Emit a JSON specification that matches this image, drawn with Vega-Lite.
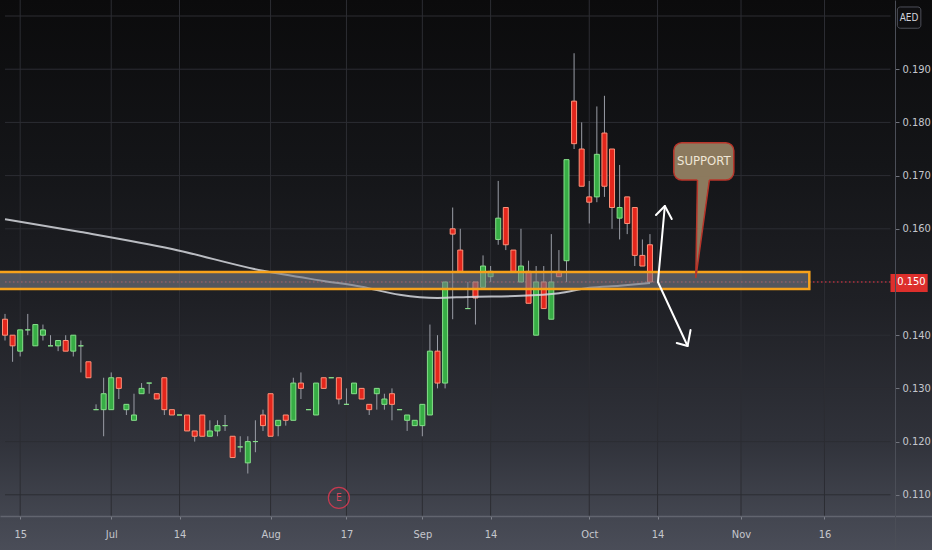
{
  "$schema": "https://vega.github.io/schema/vega-lite/v6.json",
  "width": 932,
  "height": 550,
  "autosize": {"type": "none"},
  "padding": 0,
  "background": "#0b0b0c",
  "config": {
    "view": {"stroke": null},
    "font": "'Liberation Sans Narrow', 'DejaVu Sans Condensed', 'Roboto Condensed', sans-serif"
  },
  "datasets": {
    "candles": [
      {"n": 0, "o": 0.143, "h": 0.144, "l": 0.139, "c": 0.140},
      {"n": 1, "o": 0.140, "h": 0.140, "l": 0.135, "c": 0.138},
      {"n": 2, "o": 0.137, "h": 0.141, "l": 0.136, "c": 0.141},
      {"n": 3, "o": 0.141, "h": 0.144, "l": 0.140, "c": 0.141},
      {"n": 4, "o": 0.138, "h": 0.142, "l": 0.138, "c": 0.142},
      {"n": 5, "o": 0.140, "h": 0.142, "l": 0.139, "c": 0.141},
      {"n": 6, "o": 0.138, "h": 0.140, "l": 0.138, "c": 0.138},
      {"n": 7, "o": 0.138, "h": 0.139, "l": 0.137, "c": 0.139},
      {"n": 8, "o": 0.139, "h": 0.140, "l": 0.137, "c": 0.137},
      {"n": 9, "o": 0.137, "h": 0.140, "l": 0.136, "c": 0.140},
      {"n": 10, "o": 0.138, "h": 0.139, "l": 0.133, "c": 0.138},
      {"n": 11, "o": 0.135, "h": 0.135, "l": 0.132, "c": 0.132},
      {"n": 12, "o": 0.126, "h": 0.127, "l": 0.126, "c": 0.126},
      {"n": 13, "o": 0.126, "h": 0.132, "l": 0.121, "c": 0.129},
      {"n": 14, "o": 0.126, "h": 0.133, "l": 0.126, "c": 0.132},
      {"n": 15, "o": 0.132, "h": 0.132, "l": 0.128, "c": 0.130},
      {"n": 16, "o": 0.126, "h": 0.127, "l": 0.125, "c": 0.127},
      {"n": 17, "o": 0.124, "h": 0.129, "l": 0.124, "c": 0.125},
      {"n": 18, "o": 0.129, "h": 0.131, "l": 0.129, "c": 0.130},
      {"n": 19, "o": 0.131, "h": 0.131, "l": 0.129, "c": 0.131},
      {"n": 20, "o": 0.129, "h": 0.129, "l": 0.128, "c": 0.128},
      {"n": 21, "o": 0.132, "h": 0.132, "l": 0.125, "c": 0.126},
      {"n": 22, "o": 0.126, "h": 0.126, "l": 0.125, "c": 0.125},
      {"n": 23, "o": 0.125, "h": 0.125, "l": 0.125, "c": 0.125},
      {"n": 24, "o": 0.125, "h": 0.125, "l": 0.122, "c": 0.122},
      {"n": 25, "o": 0.122, "h": 0.122, "l": 0.120, "c": 0.121},
      {"n": 26, "o": 0.125, "h": 0.125, "l": 0.121, "c": 0.121},
      {"n": 27, "o": 0.121, "h": 0.124, "l": 0.121, "c": 0.122},
      {"n": 28, "o": 0.122, "h": 0.124, "l": 0.121, "c": 0.123},
      {"n": 29, "o": 0.123, "h": 0.125, "l": 0.122, "c": 0.123},
      {"n": 30, "o": 0.121, "h": 0.121, "l": 0.117, "c": 0.117},
      {"n": 31, "o": 0.119, "h": 0.121, "l": 0.118, "c": 0.119},
      {"n": 32, "o": 0.116, "h": 0.121, "l": 0.114, "c": 0.120},
      {"n": 33, "o": 0.120, "h": 0.124, "l": 0.118, "c": 0.120},
      {"n": 34, "o": 0.125, "h": 0.126, "l": 0.122, "c": 0.123},
      {"n": 35, "o": 0.129, "h": 0.129, "l": 0.121, "c": 0.121},
      {"n": 36, "o": 0.123, "h": 0.124, "l": 0.121, "c": 0.124},
      {"n": 37, "o": 0.125, "h": 0.125, "l": 0.123, "c": 0.124},
      {"n": 38, "o": 0.124, "h": 0.132, "l": 0.124, "c": 0.131},
      {"n": 39, "o": 0.131, "h": 0.133, "l": 0.128, "c": 0.130},
      {"n": 40, "o": 0.126, "h": 0.126, "l": 0.126, "c": 0.126},
      {"n": 41, "o": 0.125, "h": 0.131, "l": 0.125, "c": 0.131},
      {"n": 42, "o": 0.132, "h": 0.132, "l": 0.130, "c": 0.130},
      {"n": 43, "o": 0.132, "h": 0.132, "l": 0.132, "c": 0.132},
      {"n": 44, "o": 0.132, "h": 0.132, "l": 0.127, "c": 0.128},
      {"n": 45, "o": 0.127, "h": 0.130, "l": 0.127, "c": 0.127},
      {"n": 46, "o": 0.129, "h": 0.131, "l": 0.129, "c": 0.131},
      {"n": 47, "o": 0.130, "h": 0.130, "l": 0.128, "c": 0.128},
      {"n": 48, "o": 0.127, "h": 0.127, "l": 0.125, "c": 0.126},
      {"n": 49, "o": 0.129, "h": 0.130, "l": 0.126, "c": 0.130},
      {"n": 50, "o": 0.127, "h": 0.129, "l": 0.126, "c": 0.128},
      {"n": 51, "o": 0.129, "h": 0.130, "l": 0.124, "c": 0.127},
      {"n": 52, "o": 0.126, "h": 0.126, "l": 0.126, "c": 0.126},
      {"n": 53, "o": 0.124, "h": 0.125, "l": 0.122, "c": 0.125},
      {"n": 54, "o": 0.123, "h": 0.124, "l": 0.123, "c": 0.124},
      {"n": 55, "o": 0.123, "h": 0.127, "l": 0.121, "c": 0.127},
      {"n": 56, "o": 0.125, "h": 0.142, "l": 0.125, "c": 0.137},
      {"n": 57, "o": 0.137, "h": 0.140, "l": 0.130, "c": 0.131},
      {"n": 58, "o": 0.131, "h": 0.150, "l": 0.130, "c": 0.150},
      {"n": 59, "o": 0.160, "h": 0.164, "l": 0.143, "c": 0.159},
      {"n": 60, "o": 0.156, "h": 0.160, "l": 0.152, "c": 0.152},
      {"n": 61, "o": 0.145, "h": 0.150, "l": 0.145, "c": 0.145},
      {"n": 62, "o": 0.150, "h": 0.150, "l": 0.142, "c": 0.147},
      {"n": 63, "o": 0.149, "h": 0.155, "l": 0.149, "c": 0.153},
      {"n": 64, "o": 0.151, "h": 0.153, "l": 0.150, "c": 0.152},
      {"n": 65, "o": 0.158, "h": 0.169, "l": 0.157, "c": 0.162},
      {"n": 66, "o": 0.164, "h": 0.164, "l": 0.156, "c": 0.157},
      {"n": 67, "o": 0.156, "h": 0.156, "l": 0.152, "c": 0.152},
      {"n": 68, "o": 0.150, "h": 0.160, "l": 0.150, "c": 0.153},
      {"n": 69, "o": 0.152, "h": 0.154, "l": 0.146, "c": 0.146},
      {"n": 70, "o": 0.140, "h": 0.153, "l": 0.140, "c": 0.150},
      {"n": 71, "o": 0.150, "h": 0.153, "l": 0.145, "c": 0.145},
      {"n": 72, "o": 0.143, "h": 0.159, "l": 0.143, "c": 0.150},
      {"n": 73, "o": 0.152, "h": 0.156, "l": 0.151, "c": 0.151},
      {"n": 74, "o": 0.154, "h": 0.173, "l": 0.150, "c": 0.173},
      {"n": 75, "o": 0.184, "h": 0.193, "l": 0.175, "c": 0.176},
      {"n": 76, "o": 0.175, "h": 0.180, "l": 0.168, "c": 0.168},
      {"n": 77, "o": 0.166, "h": 0.169, "l": 0.161, "c": 0.165},
      {"n": 78, "o": 0.166, "h": 0.183, "l": 0.165, "c": 0.174},
      {"n": 79, "o": 0.178, "h": 0.185, "l": 0.166, "c": 0.168},
      {"n": 80, "o": 0.175, "h": 0.175, "l": 0.160, "c": 0.164},
      {"n": 81, "o": 0.162, "h": 0.172, "l": 0.158, "c": 0.164},
      {"n": 82, "o": 0.166, "h": 0.166, "l": 0.159, "c": 0.161},
      {"n": 83, "o": 0.164, "h": 0.164, "l": 0.153, "c": 0.155},
      {"n": 84, "o": 0.155, "h": 0.158, "l": 0.153, "c": 0.153},
      {"n": 85, "o": 0.157, "h": 0.159, "l": 0.150, "c": 0.150}
    ],
    "ma": [
      {"n": 0, "v": 0.1618},
      {"n": 10, "v": 0.1594},
      {"n": 22, "v": 0.1562},
      {"n": 34, "v": 0.1521},
      {"n": 42, "v": 0.1502},
      {"n": 47, "v": 0.1491},
      {"n": 52, "v": 0.1476},
      {"n": 57, "v": 0.1470},
      {"n": 61, "v": 0.1472},
      {"n": 68, "v": 0.1474},
      {"n": 73, "v": 0.1479},
      {"n": 77, "v": 0.1489},
      {"n": 81, "v": 0.1493},
      {"n": 85, "v": 0.1498}
    ],
    "gridY": [
      {"p": 0.11}, {"p": 0.12}, {"p": 0.13}, {"p": 0.14}, {"p": 0.15},
      {"p": 0.16}, {"p": 0.17}, {"p": 0.18}, {"p": 0.19}, {"p": 0.20}
    ],
    "gridX": [
      {"n": 2}, {"n": 14}, {"n": 23}, {"n": 35}, {"n": 45}, {"n": 55},
      {"n": 64}, {"n": 77}, {"n": 86}, {"n": 97}, {"n": 108}
    ],
    "arrows": [
      {"part": "upShaft", "k": 0, "n": 86.05, "p": 0.1500},
      {"part": "upShaft", "k": 1, "n": 86.96, "p": 0.16429},
      {"part": "upHead", "k": 0, "n": 85.79, "p": 0.16259},
      {"part": "upHead", "k": 1, "n": 86.96, "p": 0.16429},
      {"part": "upHead", "k": 2, "n": 87.87, "p": 0.16184},
      {"part": "downShaft", "k": 0, "n": 86.05, "p": 0.1500},
      {"part": "downShaft", "k": 1, "n": 89.96, "p": 0.13797},
      {"part": "downHead", "k": 0, "n": 88.53, "p": 0.13853},
      {"part": "downHead", "k": 1, "n": 89.96, "p": 0.13797},
      {"part": "downHead", "k": 2, "n": 90.35, "p": 0.14098}
    ]
  },
  "layer": [
    {
      "data": {"values": [{}]},
      "mark": {
        "type": "rect",
        "fill": {
          "gradient": "linear", "x1": 0, "y1": 0, "x2": 0, "y2": 1,
          "stops": [
            {"offset": 0, "color": "#0b0b0c"},
            {"offset": 0.3, "color": "#141518"},
            {"offset": 0.55, "color": "#1f2025"},
            {"offset": 0.8, "color": "#30323a"},
            {"offset": 0.94, "color": "#434650"},
            {"offset": 1, "color": "#4a4d58"}
          ]
        }
      },
      "encoding": {}
    },
    {
      "data": {"name": "gridY"},
      "mark": {"type": "rule", "color": "#2c2d33", "strokeWidth": 1},
      "encoding": {
        "y": {"field": "p", "type": "quantitative", "scale": {"domain": [0.09962, 0.20301], "nice": false, "zero": false}},
        "x": {"datum": 0, "type": "quantitative", "scale": {"domain": [0, 121.51], "nice": false, "zero": false}},
        "x2": {"datum": 116.7}
      }
    },
    {
      "data": {"name": "gridX"},
      "mark": {"type": "rule", "color": "#2c2d33", "strokeWidth": 1},
      "encoding": {
        "x": {"field": "n", "type": "quantitative"},
        "y": {"datum": 0.20301, "type": "quantitative"},
        "y2": {"datum": 0.10601}
      }
    },
    {
      "data": {"values": [{"p": 0.150}]},
      "mark": {"type": "rule", "color": "#f23645", "strokeWidth": 1, "strokeDash": [1.5, 2.5]},
      "encoding": {
        "y": {"field": "p", "type": "quantitative"},
        "x": {"datum": 0, "type": "quantitative"},
        "x2": {"datum": 116.7}
      }
    },
    {
      "data": {"name": "candles"},
      "mark": {"type": "rule", "color": "#9a9da6", "strokeWidth": 1},
      "encoding": {
        "x": {
          "field": "n", "type": "quantitative",
          "scale": {"domain": [0, 121.51], "nice": false, "zero": false},
          "axis": {
            "orient": "bottom", "offset": -34, "title": null, "grid": false, "zindex": 1,
            "values": [2, 14, 23, 35, 45, 55, 64, 77, 86, 97, 108],
            "labelExpr": "datum.value == 2 ? '15' : datum.value == 14 ? 'Jul' : datum.value == 23 ? '14' : datum.value == 35 ? 'Aug' : datum.value == 45 ? '17' : datum.value == 55 ? 'Sep' : datum.value == 64 ? '14' : datum.value == 77 ? 'Oct' : datum.value == 86 ? '14' : datum.value == 97 ? 'Nov' : '16'",
            "domainColor": "#62656f", "domainWidth": 1.5,
            "tickColor": "#80838c", "tickSize": 3,
            "labelPadding": 9, "labelFontSize": 11, "labelColor": "#c5c7cd",
            "labelOverlap": false, "labelFlush": false, "labelBound": false
          }
        },
        "y": {
          "field": "l", "type": "quantitative",
          "scale": {"domain": [0.09962, 0.20301], "nice": false, "zero": false},
          "axis": {
            "orient": "right", "offset": -37, "title": null, "grid": false, "zindex": 1,
            "values": [0.11, 0.12, 0.13, 0.14, 0.16, 0.17, 0.18, 0.19],
            "format": ".3f",
            "domainColor": "#4b4e57", "domainWidth": 1,
            "tickColor": "#70737c", "tickSize": 4,
            "labelPadding": 3, "labelFontSize": 11, "labelColor": "#c5c7cd",
            "labelOverlap": false, "labelFlush": false, "labelBound": false
          }
        },
        "y2": {"field": "h"}
      }
    },
    {
      "data": {"name": "candles"},
      "mark": {"type": "bar", "size": 5, "strokeWidth": 1},
      "encoding": {
        "x": {"field": "n", "type": "quantitative"},
        "y": {"field": "o", "type": "quantitative"},
        "y2": {"field": "c"},
        "fill": {"condition": {"test": "datum.c < datum.o", "value": "#e3261c"}, "value": "#37ad45"},
        "stroke": {"condition": {"test": "datum.c < datum.o", "value": "#ff927a"}, "value": "#86e08a"}
      }
    },
    {
      "data": {"name": "ma"},
      "mark": {"type": "line", "color": "#d6d8de", "strokeWidth": 2, "opacity": 0.85, "interpolate": "monotone"},
      "encoding": {
        "x": {"field": "n", "type": "quantitative"},
        "y": {"field": "v", "type": "quantitative"}
      }
    },
    {
      "data": {"values": [{"zone": "support", "lo": 0.1487, "hi": 0.1519}]},
      "mark": {"type": "rect", "fill": "#787b86", "fillOpacity": 0.6, "stroke": "#f7a21b", "strokeWidth": 2.5},
      "encoding": {
        "x": {"datum": -3, "type": "quantitative"},
        "x2": {"datum": 106},
        "y": {"field": "lo", "type": "quantitative"},
        "y2": {"field": "hi"}
      }
    },
    {
      "data": {"name": "arrows"},
      "mark": {"type": "line", "color": "#ffffff", "strokeWidth": 2, "strokeCap": "round", "strokeJoin": "round"},
      "encoding": {
        "x": {"field": "n", "type": "quantitative"},
        "y": {"field": "p", "type": "quantitative"},
        "detail": {"field": "part"},
        "order": {"field": "k"}
      }
    },
    {
      "data": {"values": [{"label": "SUPPORT"}]},
      "mark": {"type": "rect", "fill": "#8c7a5e", "stroke": "#b8352a", "strokeWidth": 1.5, "cornerRadius": 8},
      "encoding": {
        "x": {"datum": 88.14, "type": "quantitative"},
        "x2": {"datum": 96.05},
        "y": {"datum": 0.17618, "type": "quantitative"},
        "y2": {"datum": 0.16917}
      }
    },
    {
      "data": {"values": [{"p": 0.1698, "a": 91.24, "b": 92.87}, {"p": 0.15075, "a": 91.04, "b": 91.04}]},
      "mark": {"type": "area", "orient": "horizontal", "fill": "#8c7a5e"},
      "encoding": {
        "y": {"field": "p", "type": "quantitative"},
        "x": {"field": "a", "type": "quantitative"},
        "x2": {"field": "b"}
      }
    },
    {
      "data": {"values": [{"k": 0, "n": 91.26, "p": 0.16917}, {"k": 1, "n": 91.04, "p": 0.15075}, {"k": 2, "n": 92.83, "p": 0.16917}]},
      "mark": {"type": "line", "color": "#b8352a", "strokeWidth": 1.5},
      "encoding": {
        "x": {"field": "n", "type": "quantitative"},
        "y": {"field": "p", "type": "quantitative"},
        "order": {"field": "k"}
      }
    },
    {
      "data": {"values": [{"label": "SUPPORT"}]},
      "mark": {"type": "text", "color": "#efe6d6", "fontSize": 13, "align": "center", "baseline": "middle"},
      "encoding": {
        "x": {"datum": 92.1, "type": "quantitative"},
        "y": {"datum": 0.1728, "type": "quantitative"},
        "text": {"field": "label"}
      }
    },
    {
      "data": {"values": [{"tag": "E"}]},
      "mark": {"type": "point", "shape": "circle", "filled": false, "stroke": "#c63a50", "strokeWidth": 1.2, "size": 441, "opacity": 1},
      "encoding": {
        "x": {"datum": 44, "type": "quantitative"},
        "y": {"datum": 0.1094, "type": "quantitative"}
      }
    },
    {
      "data": {"values": [{"tag": "E"}]},
      "mark": {"type": "text", "color": "#d8485e", "fontSize": 10, "align": "center", "baseline": "middle"},
      "encoding": {
        "x": {"datum": 44, "type": "quantitative"},
        "y": {"datum": 0.1094, "type": "quantitative"},
        "text": {"field": "tag"}
      }
    },
    {
      "data": {"values": [{"v": 0.150}]},
      "mark": {"type": "rect", "fill": "#dd2f2c"},
      "encoding": {
        "x": {"datum": 116.7, "type": "quantitative"},
        "x2": {"datum": 121.6},
        "y": {"datum": 0.1515, "type": "quantitative"},
        "y2": {"datum": 0.1481}
      }
    },
    {
      "data": {"values": [{"v": 0.150}]},
      "mark": {"type": "text", "color": "#ffffff", "fontSize": 11, "align": "left", "baseline": "middle"},
      "encoding": {
        "x": {"datum": 117.6, "type": "quantitative"},
        "y": {"field": "v", "type": "quantitative"},
        "text": {"field": "v", "format": ".3f"}
      }
    },
    {
      "data": {"values": [{"unit": "AED"}]},
      "mark": {"type": "rect", "fill": "#0f0f11", "stroke": "#4e5059", "strokeWidth": 1, "cornerRadius": 3},
      "encoding": {
        "x": {"datum": 117.6, "type": "quantitative"},
        "x2": {"datum": 120.7},
        "y": {"datum": 0.2017, "type": "quantitative"},
        "y2": {"datum": 0.1977}
      }
    },
    {
      "data": {"values": [{"unit": "AED"}]},
      "mark": {"type": "text", "color": "#d1d4dc", "fontSize": 10, "align": "center", "baseline": "middle"},
      "encoding": {
        "x": {"datum": 119.15, "type": "quantitative"},
        "y": {"datum": 0.1997, "type": "quantitative"},
        "text": {"field": "unit"}
      }
    }
  ]
}
